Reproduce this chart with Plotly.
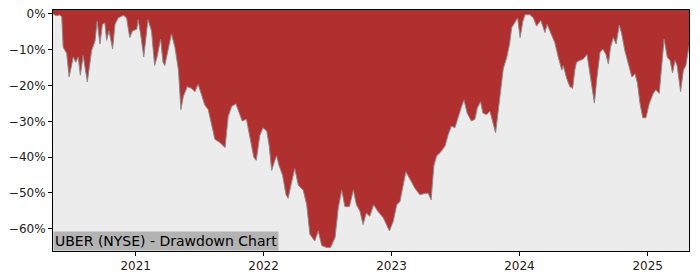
import plotly.graph_objects as go

dates = [
    "2020-05-10", "2020-05-19", "2020-05-29", "2020-06-04", "2020-06-08", "2020-06-18", "2020-06-25",
    "2020-07-07", "2020-07-14", "2020-07-21", "2020-07-27", "2020-08-04", "2020-08-16", "2020-08-28",
    "2020-09-07", "2020-09-13", "2020-09-21", "2020-09-28", "2020-10-05", "2020-10-10", "2020-10-17",
    "2020-10-27", "2020-11-03", "2020-11-12", "2020-11-27", "2020-12-06", "2020-12-15", "2020-12-23",
    "2021-01-04", "2021-01-08", "2021-01-15", "2021-01-24", "2021-02-05", "2021-02-15", "2021-02-24",
    "2021-03-03", "2021-03-13", "2021-03-20", "2021-03-25", "2021-04-04", "2021-04-13", "2021-04-23",
    "2021-05-03", "2021-05-10", "2021-05-17", "2021-05-28", "2021-06-10", "2021-06-19", "2021-06-28",
    "2021-07-08", "2021-07-17", "2021-07-27", "2021-08-06", "2021-08-15", "2021-08-29", "2021-09-13",
    "2021-09-22", "2021-10-02", "2021-10-14", "2021-10-25", "2021-11-01", "2021-11-13", "2021-11-24",
    "2021-12-04", "2021-12-11", "2021-12-21", "2021-12-30", "2022-01-10", "2022-01-17", "2022-01-24",
    "2022-02-02", "2022-02-07", "2022-02-14", "2022-02-24", "2022-03-06", "2022-03-12", "2022-03-22",
    "2022-03-31", "2022-04-10", "2022-04-24", "2022-05-04", "2022-05-13", "2022-05-27", "2022-06-06",
    "2022-06-16", "2022-06-30", "2022-07-11", "2022-07-24", "2022-08-02", "2022-08-12", "2022-08-21",
    "2022-09-03", "2022-09-14", "2022-09-23", "2022-10-03", "2022-10-12", "2022-10-21", "2022-10-31",
    "2022-11-11", "2022-11-23", "2022-12-09", "2022-12-26", "2023-01-06", "2023-01-16", "2023-01-25",
    "2023-02-03", "2023-02-11", "2023-02-22", "2023-03-09", "2023-03-23", "2023-04-07", "2023-04-16",
    "2023-04-24", "2023-05-02", "2023-05-10", "2023-05-21", "2023-06-03", "2023-06-12", "2023-06-21",
    "2023-07-01", "2023-07-10", "2023-07-20", "2023-07-27", "2023-08-05", "2023-08-17", "2023-08-27",
    "2023-09-03", "2023-09-12", "2023-09-19", "2023-09-29", "2023-10-09", "2023-10-17", "2023-10-25",
    "2023-11-02", "2023-11-09", "2023-11-16", "2023-11-26", "2023-12-04", "2023-12-10", "2023-12-20",
    "2023-12-27", "2024-01-03", "2024-01-11", "2024-01-17", "2024-01-31", "2024-02-10", "2024-02-19",
    "2024-03-02", "2024-03-14", "2024-03-20", "2024-04-02", "2024-04-11", "2024-04-21", "2024-05-01",
    "2024-05-05", "2024-05-15", "2024-05-24", "2024-06-01", "2024-06-07", "2024-06-12", "2024-06-21",
    "2024-07-01", "2024-07-12", "2024-07-18", "2024-07-25", "2024-08-02", "2024-08-09", "2024-08-18",
    "2024-08-26", "2024-09-04", "2024-09-11", "2024-09-17", "2024-09-25", "2024-10-03", "2024-10-12",
    "2024-10-19", "2024-10-28", "2024-11-07", "2024-11-17", "2024-11-26", "2024-12-03", "2024-12-10",
    "2024-12-18", "2024-12-27", "2025-01-06", "2025-01-17", "2025-01-24", "2025-02-03", "2025-02-10",
    "2025-02-17", "2025-02-26", "2025-03-06", "2025-03-13", "2025-03-20", "2025-03-26", "2025-04-05",
    "2025-04-13", "2025-04-20", "2025-04-27", "2025-04-29",
]

drawdown_pct = [
    0.0, -0.5, -0.3, -0.8, -9.3, -11.0, -17.6,
    -12.0, -13.5, -12.0, -17.1, -11.6, -19.0, -10.3,
    -7.5, -2.0, -8.4, -2.9, -2.5, -7.4, -4.7,
    -9.8, -2.9, -1.1, -0.4, -1.1, -6.6, -4.7,
    -4.3, -1.6, -5.6, -12.0, -1.6, -4.7, -14.4,
    -12.0, -7.0, -13.5, -14.4, -9.3, -5.6, -9.3,
    -15.7, -26.7, -23.0, -20.3, -20.8, -21.7, -19.6,
    -22.6, -25.4, -26.7, -31.3, -35.0, -35.9, -37.3,
    -28.6, -25.8, -25.1, -27.7, -29.9, -29.4, -35.0,
    -40.0, -40.9, -34.0, -31.8, -32.7, -36.8, -43.7,
    -40.9, -39.6, -42.3, -45.0, -50.5, -51.5, -46.9,
    -43.2, -47.8, -49.2, -53.3, -61.5, -63.4, -60.6,
    -64.7, -65.2, -65.2, -62.4, -54.2, -49.2, -53.8,
    -53.8, -49.2, -53.3, -55.1, -58.8, -55.6, -56.5,
    -53.3, -55.1, -57.0, -60.6, -57.9, -53.3, -52.4,
    -47.8, -44.1, -46.0, -48.7, -50.5, -50.1, -50.1,
    -51.9, -42.3, -39.6, -38.6, -36.8, -33.6, -31.3,
    -31.8, -28.6, -25.8, -24.0, -27.7, -29.9, -29.4,
    -26.2, -24.5, -27.7, -28.1, -27.2, -30.4, -33.2,
    -26.7, -20.3, -15.3, -12.1, -8.4, -3.8, -2.0,
    -1.1, -6.6, -2.0, -0.2, -0.2, -1.1, -3.4,
    -1.8, -5.2, -2.9, -6.1, -8.0, -12.1, -15.7,
    -14.4, -18.0, -20.3, -20.8, -15.7, -13.5, -13.0,
    -12.6, -11.3, -14.9, -19.4, -24.9, -18.0, -10.7,
    -9.8, -11.3, -14.0, -9.3, -6.6, -8.4, -3.1,
    -5.6, -10.3, -14.4, -17.6, -16.7, -19.4, -24.9,
    -29.0, -29.0, -24.9, -22.2, -21.2, -22.2, -14.8,
    -7.0, -12.1, -13.0, -16.5, -13.0, -14.4, -21.7,
    -15.7, -14.4, -10.3, -9.0,
]

year_ticks = ["2021-01-01", "2022-01-01", "2023-01-01", "2024-01-01", "2025-01-01"]
year_labels = ["2021", "2022", "2023", "2024", "2025"]
pct_ticks = [0, -10, -20, -30, -40, -50, -60]
pct_labels = ["0%", "\u221210%", "\u221220%", "\u221230%", "\u221240%", "\u221250%", "\u221260%"]

y_top = 1.1
y_bottom = -66.2

fig = go.Figure()
fig.add_trace(go.Scatter(
    x=dates, y=[y_top] * len(dates), mode="lines",
    line=dict(width=0, color="rgba(0,0,0,0)"), hoverinfo="skip", showlegend=False,
))
fig.add_trace(go.Scatter(
    x=dates, y=drawdown_pct, mode="lines", fill="tonexty",
    fillcolor="#b03030", line=dict(color="#8a8a8a", width=1),
    showlegend=False,
))

fig.add_annotation(
    x=0, y=0, xref="paper", yref="paper", xanchor="left", yanchor="bottom",
    text="UBER (NYSE) - Drawdown Chart", showarrow=False,
    font=dict(family="DejaVu Sans", size=14, color="#000000"),
    bgcolor="#b3b3b3", borderpad=1,
)

fig.update_layout(
    width=700, height=280,
    margin=dict(l=53, r=11, t=7, b=28),
    paper_bgcolor="#ffffff",
    plot_bgcolor="#ececec",
    font=dict(family="DejaVu Sans", size=12, color="#222222"),
    showlegend=False,
)
fig.update_xaxes(
    type="date", range=["2020-05-10", "2025-04-29"],
    tickvals=year_ticks, ticktext=year_labels,
    showgrid=False, zeroline=False,
    showline=True, linecolor="#000000", linewidth=1, mirror=True,
    ticks="outside", ticklen=4, tickcolor="#000000",
)
fig.update_yaxes(
    range=[y_bottom, y_top],
    tickvals=pct_ticks, ticktext=pct_labels,
    showgrid=False, zeroline=False,
    showline=True, linecolor="#000000", linewidth=1, mirror=True,
    ticks="outside", ticklen=4, tickcolor="#000000",
)

fig.write_html("out.html")
